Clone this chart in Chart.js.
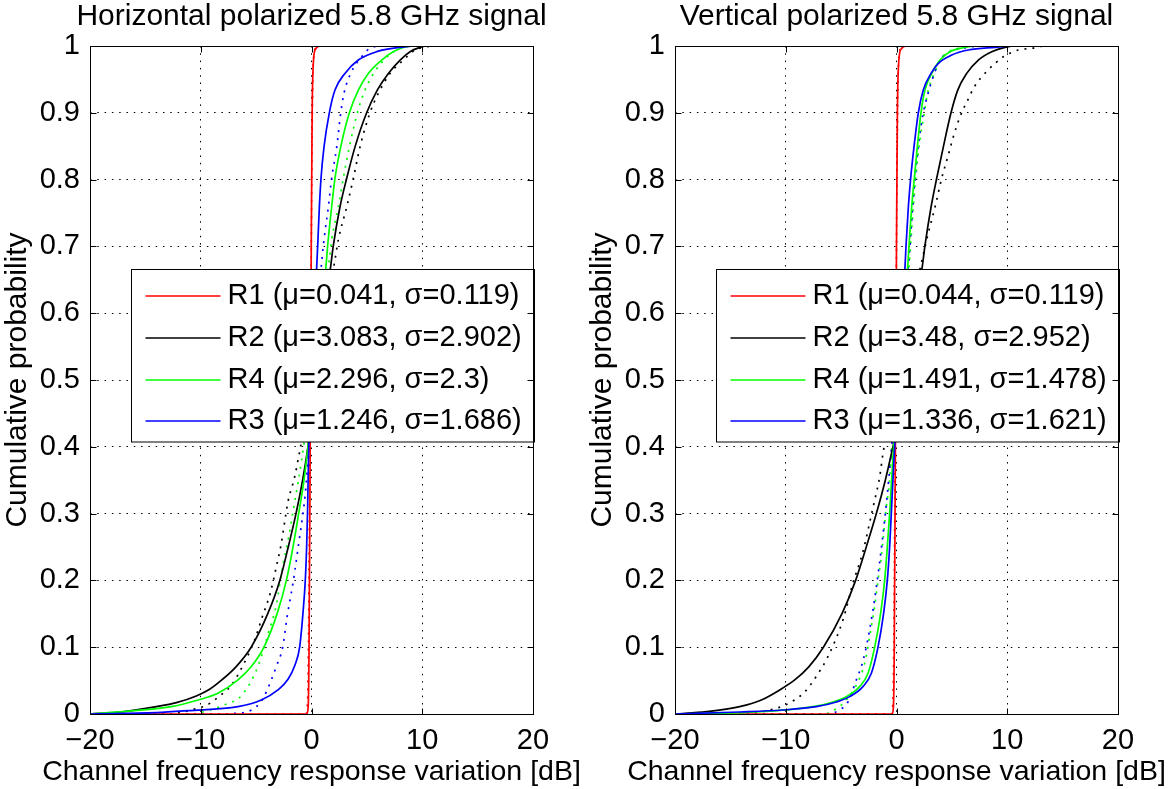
<!DOCTYPE html>
<html>
<head>
<meta charset="utf-8">
<script src="https://cdn.jsdelivr.net/npm/chart.js@4.4.1/dist/chart.umd.min.js"></script>
<style>
html, body { margin: 0; padding: 0; background: #fff; }
#wrap { position: relative; width: 1176px; height: 789px; overflow: hidden; }
canvas { position: absolute; top: 0; }
#cH { left: 0; }
#cV { left: 585px; }
</style>
</head>
<body>
<div id="wrap">
	<canvas id="cH" width="585" height="789"></canvas>
	<canvas id="cV" width="591" height="789"></canvas>
</div>
<script>
const FONT = "'Liberation Sans', Arial, Helvetica, sans-serif";

const xTicks = [-20, -10, 0, 10, 20];
const xTickLabels = ['\u221220', '\u221210', '0', '10', '20'];
const yTicks = [0, 0.1, 0.2, 0.3, 0.4, 0.5, 0.6, 0.7, 0.8, 0.9, 1];
const yTickLabels = ['0', '0.1', '0.2', '0.3', '0.4', '0.5', '0.6', '0.7', '0.8', '0.9', '1'];
const xTitle = 'Channel frequency response variation [dB]';
const yTitle = 'Cumulative probability';

// legend order: R1, R2, R4, R3
const seriesColors = ['#ff0000', '#000000', '#00ff00', '#0000ff'];
const hLegend = ['R1 (\u03bc=0.041, \u03c3=0.119)', 'R2 (\u03bc=3.083, \u03c3=2.902)', 'R4 (\u03bc=2.296, \u03c3=2.3)', 'R3 (\u03bc=1.246, \u03c3=1.686)'];
const vLegend = ['R1 (\u03bc=0.044, \u03c3=0.119)', 'R2 (\u03bc=3.48, \u03c3=2.952)', 'R4 (\u03bc=1.491, \u03c3=1.478)', 'R3 (\u03bc=1.336, \u03c3=1.621)'];

// Horizontal polarized, measured (solid)
const hR1 = [[-20,0],[-0.45,0],[-0.3,0.01],[-0.22,0.1],[-0.12,0.4],[-0.02,0.7],[0.06,0.9],[0.15,0.97],[0.35,0.995],[0.8,1],[20,1]];
const hR2 = [[-20,0],[-17.2,0.003],[-14.0,0.011],[-12.2,0.017],[-10.4,0.027],[-9.2,0.037],[-8.1,0.051],[-6.8,0.071],[-5.45,0.1],[-3.93,0.151],[-2.86,0.2],[-2.1,0.25],[-1.4,0.3],[-0.8,0.35],[-0.32,0.4],[0.3,0.48],[1.0,0.575],[1.73,0.67],[1.97,0.701],[2.57,0.759],[3.18,0.802],[3.93,0.849],[4.98,0.9],[5.94,0.934],[6.94,0.959],[8.0,0.979],[8.9,0.9915],[9.8,0.998],[10.5,1],[20,1]];
const hR4 = [[-20,0],[-18.4,0.002],[-12.66,0.011],[-10.25,0.021],[-8.44,0.031],[-6.64,0.051],[-5.43,0.071],[-4.29,0.1],[-3.09,0.151],[-2.27,0.2],[-1.67,0.25],[-1.16,0.3],[-0.68,0.35],[-0.32,0.4],[0.2,0.485],[0.8,0.585],[1.31,0.67],[1.46,0.701],[1.82,0.759],[2.12,0.802],[2.64,0.849],[3.42,0.9],[4.23,0.934],[5.13,0.959],[6.34,0.979],[7.69,0.994],[9.2,1],[20,1]];
const hR3 = [[-20,0],[-14,0.002],[-11.15,0.005],[-6.64,0.011],[-4.53,0.021],[-3.03,0.036],[-2.12,0.052],[-1.5,0.073],[-1.07,0.1],[-0.77,0.151],[-0.56,0.2],[-0.44,0.25],[-0.36,0.3],[-0.25,0.4],[0.02,0.5],[0.28,0.6],[0.47,0.67],[0.56,0.701],[0.71,0.759],[0.86,0.802],[1.13,0.849],[1.61,0.9],[2.12,0.934],[3.02,0.959],[4.23,0.979],[5.89,0.9915],[8.0,0.998],[10,1],[20,1]];

// Horizontal polarized, fitted (dotted)
const hR1fit = [[-20,0],[-0.5,0],[-0.35,0.02],[-0.25,0.15],[-0.12,0.45],[0,0.75],[0.1,0.93],[0.25,0.99],[0.5,1],[20,1]];
const hR2fit = [[-20,0],[-13,0],[-10.4,0.008],[-9.49,0.013],[-7.99,0.031],[-7.24,0.043],[-6.34,0.068],[-5.13,0.111],[-4.53,0.141],[-3.69,0.183],[-3.18,0.22],[-2.73,0.255],[-2.42,0.288],[-2.12,0.318],[-1.52,0.355],[-1.07,0.393],[0.0,0.49],[1.1,0.59],[2.12,0.68],[2.42,0.71],[3.18,0.759],[3.78,0.802],[4.38,0.849],[5.28,0.9],[6.03,0.929],[7.09,0.959],[8.29,0.979],[9.35,0.994],[10.1,0.998],[11.5,1],[20,1]];
const hR4fit = [[-20,0],[-11,0],[-9.16,0.006],[-7.51,0.016],[-6.6,0.023],[-5.55,0.046],[-4.8,0.073],[-3.9,0.121],[-3.14,0.166],[-2.69,0.213],[-2.09,0.263],[-1.49,0.32],[-0.89,0.38],[-0.5,0.427],[0.5,0.547],[1.2,0.631],[1.61,0.68],[1.82,0.71],[2.42,0.759],[2.87,0.802],[3.42,0.849],[4.14,0.9],[4.83,0.934],[5.82,0.964],[6.84,0.984],[7.69,0.994],[8.26,0.998],[9,1],[20,1]];
const hR3fit = [[-20,0],[-7.5,0],[-6.9,0.001],[-5.85,0.003],[-4.98,0.011],[-4.38,0.023],[-3.63,0.051],[-3.18,0.071],[-2.6,0.1],[-2.2,0.146],[-1.67,0.196],[-1.37,0.23],[-1.07,0.265],[-0.77,0.3],[-0.56,0.33],[-0.32,0.38],[0.1,0.48],[0.5,0.58],[0.92,0.677],[1.13,0.71],[1.52,0.759],[1.82,0.802],[2.28,0.849],[2.64,0.9],[2.93,0.929],[3.54,0.959],[4.53,0.984],[5.28,0.9965],[6.5,1],[20,1]];

// Vertical polarized, measured (solid)
const vR1 = [[-20,0],[-0.4,0],[-0.28,0.01],[-0.2,0.1],[-0.1,0.4],[0.0,0.7],[0.08,0.9],[0.18,0.97],[0.4,0.995],[0.9,1],[20,1]];
const vR2 = [[-20,0],[-17.17,0.0035],[-14.16,0.011],[-12.2,0.021],[-10.55,0.036],[-9.19,0.051],[-7.9,0.071],[-6.6,0.1],[-4.9,0.151],[-3.69,0.2],[-2.73,0.25],[-1.82,0.3],[-1.01,0.35],[-0.32,0.4],[0.5,0.465],[1.5,0.58],[2.33,0.67],[2.57,0.701],[3.12,0.759],[3.63,0.802],[4.23,0.849],[4.92,0.9],[5.53,0.934],[6.34,0.959],[7.39,0.979],[8.6,0.9915],[9.8,0.998],[10.8,1],[20,1]];
const vR4 = [[-20,0],[-12.66,0.003],[-7.54,0.011],[-5.73,0.018],[-4.53,0.026],[-3.33,0.041],[-2.57,0.061],[-1.97,0.1],[-1.43,0.151],[-1.07,0.2],[-0.83,0.25],[-0.62,0.3],[-0.26,0.4],[0.2,0.498],[0.6,0.583],[1.01,0.67],[1.13,0.701],[1.37,0.759],[1.61,0.802],[1.88,0.849],[2.21,0.9],[2.57,0.934],[3.18,0.959],[3.93,0.979],[4.83,0.9915],[5.89,0.997],[7.36,1],[20,1]];
const vR3 = [[-20,0],[-14.16,0.003],[-10.25,0.006],[-7.24,0.011],[-5.43,0.018],[-4.23,0.026],[-3.03,0.041],[-2.27,0.061],[-1.67,0.1],[-1.16,0.151],[-0.83,0.2],[-0.62,0.25],[-0.47,0.3],[-0.17,0.4],[0.15,0.492],[0.45,0.578],[0.77,0.67],[0.86,0.701],[1.07,0.759],[1.28,0.802],[1.58,0.849],[1.97,0.9],[2.42,0.934],[3.12,0.959],[3.78,0.974],[4.98,0.9865],[6.48,0.994],[8.9,0.998],[10.5,1],[20,1]];

// Vertical polarized, fitted (dotted)
const vR1fit = [[-20,0],[-0.45,0],[-0.32,0.02],[-0.22,0.15],[-0.1,0.45],[0.02,0.75],[0.12,0.93],[0.27,0.99],[0.55,1],[20,1]];
const vR2fit = [[-20,0],[-13.5,0],[-11.75,0.005],[-10.1,0.013],[-8.29,0.033],[-7.18,0.058],[-6.19,0.086],[-4.83,0.141],[-3.93,0.196],[-3.03,0.243],[-2.27,0.298],[-1.97,0.32],[-1.52,0.355],[-1.22,0.39],[0.0,0.5],[1.2,0.6],[2.27,0.677],[2.87,0.72],[3.48,0.759],[4.08,0.802],[4.68,0.837],[5.13,0.864],[5.73,0.894],[6.43,0.919],[7.03,0.939],[8.14,0.962],[8.9,0.974],[9.65,0.984],[11.0,0.994],[12.2,0.9965],[13.4,1],[20,1]];
const vR4fit = [[-20,0],[-6.5,0],[-5.73,0.005],[-4.83,0.016],[-3.48,0.048],[-2.87,0.076],[-2.27,0.131],[-1.97,0.161],[-1.67,0.2],[-1.37,0.236],[-1.16,0.27],[-0.92,0.31],[-0.62,0.35],[-0.47,0.39],[0.1,0.49],[0.65,0.586],[1.13,0.67],[1.52,0.759],[1.73,0.802],[2.12,0.859],[2.51,0.9],[2.87,0.934],[3.42,0.959],[3.93,0.979],[4.68,0.9915],[5.73,0.997],[6.8,1],[20,1]];
const vR3fit = [[-20,0],[-6,0],[-5.28,0.005],[-4.38,0.018],[-3.63,0.051],[-3.18,0.071],[-2.73,0.1],[-2.12,0.156],[-1.82,0.19],[-1.58,0.22],[-1.28,0.26],[-1.01,0.3],[-0.68,0.355],[-0.47,0.395],[0.1,0.5],[0.6,0.59],[1.07,0.67],[1.46,0.759],[1.67,0.802],[2.03,0.859],[2.42,0.9],[3.02,0.939],[3.42,0.959],[3.93,0.979],[4.83,0.9915],[6.18,0.997],[7.5,1],[20,1]];

function toPoints(pts) {
	return pts.map((p) => { return {x: p[0], y: p[1]}; });
}

function makeDatasets(solid, dotted, labels) {
	let sets = [];
	solid.forEach((pts, i) => {
		sets.push({
			label: labels[i],
			inLegend: true,
			order: 4 - i,
			data: toPoints(pts),
			borderColor: seriesColors[i],
			borderWidth: 1.7,
			showLine: true,
			pointRadius: 0,
			cubicInterpolationMode: 'monotone'
		});
	});
	dotted.forEach((pts, i) => {
		sets.push({
			label: labels[i] + ' fit',
			inLegend: false,
			order: 10 - i,
			data: toPoints(pts),
			borderColor: seriesColors[i],
			borderWidth: 1.7,
			borderDash: [2, 6],
			showLine: true,
			pointRadius: 0,
			cubicInterpolationMode: 'monotone'
		});
	});
	return sets;
}

// white legend box drawn over the curves, like MATLAB's
const boxLegend = {
	id: 'boxLegend',
	afterDatasetsDraw(chart, args, opts) {
		const {ctx, chartArea} = chart;
		const x0 = Math.round(chartArea.left + opts.left) + 0.5;
		const y0 = Math.round(chartArea.top + opts.top) + 0.5;
		ctx.save();
		ctx.fillStyle = '#fff';
		ctx.fillRect(x0, y0, opts.width, opts.height);
		ctx.strokeStyle = '#000';
		ctx.lineWidth = 1;
		ctx.setLineDash([]);
		ctx.strokeRect(x0, y0, opts.width, opts.height);
		ctx.font = opts.fontSize + 'px ' + FONT;
		ctx.textBaseline = 'middle';
		ctx.textAlign = 'left';
		chart.data.datasets.filter((d) => d.inLegend).forEach((d, i) => {
			const y = y0 + opts.firstRow + i * opts.rowGap;
			ctx.strokeStyle = d.borderColor;
			ctx.lineWidth = 1.3;
			ctx.beginPath();
			ctx.moveTo(x0 + 14, Math.round(y));
			ctx.lineTo(x0 + 89, Math.round(y));
			ctx.stroke();
			ctx.fillStyle = '#000';
			ctx.fillText(d.label, x0 + 96, y);
		});
		ctx.restore();
	}
};

// axes box, inward tick marks, title and x label centred on the axes
const axesFrame = {
	id: 'axesFrame',
	afterDraw(chart, args, opts) {
		const {ctx, chartArea} = chart;
		const xs = chart.scales.x;
		const ys = chart.scales.y;
		const L = Math.round(chartArea.left) + 0.5;
		const R = Math.round(chartArea.right) + 0.5;
		const T = Math.round(chartArea.top) + 0.5;
		const B = Math.round(chartArea.bottom) + 0.5;
		const len = 6;
		ctx.save();
		ctx.strokeStyle = '#000';
		ctx.lineWidth = 1;
		ctx.setLineDash([]);
		ctx.strokeRect(L, T, R - L, B - T);
		ctx.beginPath();
		xTicks.forEach((v) => {
			const px = Math.round(xs.getPixelForValue(v)) + 0.5;
			ctx.moveTo(px, B); ctx.lineTo(px, B - len);
			ctx.moveTo(px, T); ctx.lineTo(px, T + len);
		});
		yTicks.forEach((v) => {
			const py = Math.round(ys.getPixelForValue(v)) + 0.5;
			ctx.moveTo(L, py); ctx.lineTo(L + len, py);
			ctx.moveTo(R, py); ctx.lineTo(R - len, py);
		});
		ctx.stroke();

		const cx = (chartArea.left + chartArea.right) / 2;
		ctx.fillStyle = '#000';
		ctx.textAlign = 'center';
		ctx.textBaseline = 'middle';
		ctx.font = opts.titleSize + 'px ' + FONT;
		ctx.fillText(opts.title, cx, opts.titleY);
		ctx.font = opts.xTitleSize + 'px ' + FONT;
		ctx.fillText(xTitle, cx, opts.xTitleY);
		ctx.restore();
	}
};

function renderPanel(id, title, solid, dotted, labels, rightPad) {
	const ctx = document.getElementById(id);
	const config = {
		type: 'scatter',
		data: {
			datasets: makeDatasets(solid, dotted, labels)
		},
		options: {
			responsive: false,
			animation: false,
			layout: {
				padding: {top: 46, right: rightPad, bottom: 0, left: 0}
			},
			plugins: {
				legend: {display: false},
				tooltip: {enabled: false},
				title: {display: false},
				boxLegend: {
					left: 40.5, top: 222.7, width: 403, height: 172.5,
					firstRow: 26.6, rowGap: 41.7, fontSize: 29
				},
				axesFrame: {
					title: title, titleSize: 30, titleY: 17,
					xTitleSize: 28.5, xTitleY: 772
				}
			},
			scales: {
				x: {
					type: 'linear',
					min: -20,
					max: 20,
					afterBuildTicks: (s) => { s.ticks = xTicks.map((v) => { return {value: v}; }); },
					afterFit: (s) => { s.height = 75; },
					ticks: {
						autoSkip: false,
						maxRotation: 0,
						padding: 10,
						color: '#000',
						font: {family: FONT, size: 29},
						callback: (v, i) => xTickLabels[i]
					},
					grid: {color: '#000', lineWidth: 1, drawTicks: false},
					border: {display: false, dash: [1.5, 5.8]},
					title: {display: false}
				},
				y: {
					type: 'linear',
					min: 0,
					max: 1,
					afterBuildTicks: (s) => { s.ticks = yTicks.map((v) => { return {value: v}; }); },
					afterFit: (s) => { s.width = 90; },
					ticks: {
						autoSkip: false,
						padding: 10,
						color: '#000',
						font: {family: FONT, size: 29},
						callback: (v, i) => yTickLabels[i]
					},
					grid: {color: '#000', lineWidth: 1, drawTicks: false},
					border: {display: false, dash: [1.5, 5.8]},
					title: {
						display: true,
						text: yTitle,
						color: '#000',
						font: {family: FONT, size: 30},
						padding: {top: 0, bottom: 0}
					}
				}
			}
		},
		plugins: [boxLegend, axesFrame]
	};
	return new Chart(ctx, config);
}

renderPanel('cH', 'Horizontal polarized 5.8 GHz signal', [hR1, hR2, hR4, hR3], [hR1fit, hR2fit, hR4fit, hR3fit], hLegend, 52);
renderPanel('cV', 'Vertical polarized 5.8 GHz signal', [vR1, vR2, vR4, vR3], [vR1fit, vR2fit, vR4fit, vR3fit], vLegend, 58);
</script>
</body>
</html>
